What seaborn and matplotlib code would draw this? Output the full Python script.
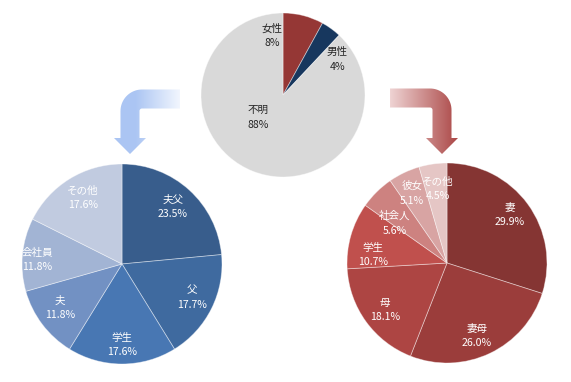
import numpy as np
import matplotlib
matplotlib.use("Agg")
import matplotlib.pyplot as plt
from matplotlib.path import Path
from matplotlib.patches import PathPatch
from matplotlib.colors import to_rgb
import seaborn as sns

sns.set_theme(style="white")
plt.rcParams['font.family'] = ['Noto Sans CJK JP', 'DejaVu Sans']

# ---- data ----
top_labels = ["女性", "男性", "不明"]
top_values = [8, 4, 88]

left_labels = ["夫父", "父", "学生", "夫", "会社員", "その他"]
left_values = [23.5, 17.7, 17.6, 11.8, 11.8, 17.6]

right_labels = ["妻", "妻母", "母", "学生", "社会人", "彼女", "その他"]
right_values = [29.9, 26.0, 18.1, 10.7, 5.6, 5.1, 4.5]

# ---- styles ----
top_colors = ["#953735", "#17375E", "#D9D9D9"]
left_colors = ["#385D8C", "#3F6A9F", "#4877B3", "#7291C3", "#A2B4D4", "#C1CBE0"]
right_colors = ["#853533", "#9B3D3B", "#AD4543", "#C0504D", "#CD8280", "#D8A4A3", "#E5C6C5"]

# label positions (axes units, radius 1) -- layout only
top_pos = [(-0.13, 0.72), (0.66, 0.43), (-0.30, -0.27)]
left_pos = [(0.51, 0.57), (0.70, -0.34), (0.0, -0.81), (-0.62, -0.44), (-0.85, 0.04), (-0.39, 0.66)]
right_pos = [(0.63, 0.48), (0.30, -0.73), (-0.62, -0.47), (-0.74, 0.08), (-0.52, 0.40), (-0.35, 0.70), (-0.09, 0.74)]

W, H = 571, 382
fig = plt.figure(figsize=(W / 100, H / 100), dpi=100)
fig.patch.set_facecolor("white")


def pie_axes(cx, cy, r):
    return fig.add_axes([(cx - r) / W, (H - cy - r) / H, 2 * r / W, 2 * r / H])


def draw_pie(ax, values, colors, labels, pos, fmt, tcolor, fs=7.6):
    ax.pie(values, colors=colors, startangle=90, counterclock=False,
           wedgeprops=dict(edgecolor=(1, 1, 1, 0.45), linewidth=0.6))
    ax.set_xlim(-1, 1)
    ax.set_ylim(-1, 1)
    ax.set_aspect("equal")
    ax.axis("off")
    for lab, v, (x, y) in zip(labels, values, pos):
        ax.text(x, y, f"{lab}\n{v:{fmt}}%", ha="center", va="center",
                fontsize=fs, color=tcolor, linespacing=1.6)


# ---- arrows (decorative, gradient-filled) ----
bg = fig.add_axes([0, 0, 1, 1])
bg.set_xlim(0, W)
bg.set_ylim(H, 0)
bg.axis("off")


def arrow_path(x_start, yc, xc, direction, w=9.5, R=12, y_head=138, y_tip=154, hw=16):
    d = direction
    ccx = xc - d * R
    ccy = yc + R
    pts = [(x_start, yc - w)]
    ro = R + w
    for t in np.linspace(0, 90, 20):
        a = np.radians(t)
        pts.append((ccx + d * ro * np.sin(a), ccy - ro * np.cos(a)))
    pts += [(xc + d * w, y_head), (xc + d * hw, y_head), (xc, y_tip),
            (xc - d * hw, y_head), (xc - d * w, y_head)]
    ri = max(R - w, 0.5)
    for t in np.linspace(90, 0, 20):
        a = np.radians(t)
        pts.append((ccx + d * ri * np.sin(a), ccy - ri * np.cos(a)))
    pts += [(x_start, yc + w), (x_start, yc - w)]
    return Path(pts, closed=True)


def gradient_image(x0, c0, x1, c1):
    xs = np.arange(W)
    t = np.clip((xs - x0) / (x1 - x0), 0, 1)
    a = np.array(to_rgb(c0))
    b = np.array(to_rgb(c1))
    row = a[None, :] * (1 - t[:, None]) + b[None, :] * t[:, None]
    return np.repeat(row[None, :, :], H, axis=0)


lp = arrow_path(180, 99, 130, -1)
lpatch = PathPatch(lp, facecolor="none", edgecolor="none")
bg.add_patch(lpatch)
img = bg.imshow(gradient_image(135, "#ABC5F3", 180, "#F3F7FE"), extent=(0, W, H, 0),
                aspect="auto", interpolation="bilinear")
img.set_clip_path(lpatch)

rp = arrow_path(390, 98, 442, 1)
rpatch = PathPatch(rp, facecolor="none", edgecolor="none")
bg.add_patch(rpatch)
img2 = bg.imshow(gradient_image(390, "#EFD3D3", 458, "#AA4645"), extent=(0, W, H, 0),
                 aspect="auto", interpolation="bilinear")
img2.set_clip_path(rpatch)

# ---- pies ----
ax_top = pie_axes(283, 95, 82)
draw_pie(ax_top, top_values, top_colors, top_labels, top_pos, "d", "#262626")

ax_left = pie_axes(122, 264, 100)
draw_pie(ax_left, left_values, left_colors, left_labels, left_pos, ".1f", "white")

ax_right = pie_axes(447, 263, 100)
draw_pie(ax_right, right_values, right_colors, right_labels, right_pos, ".1f", "white")

fig.savefig("out.png", dpi=100, facecolor="white")
